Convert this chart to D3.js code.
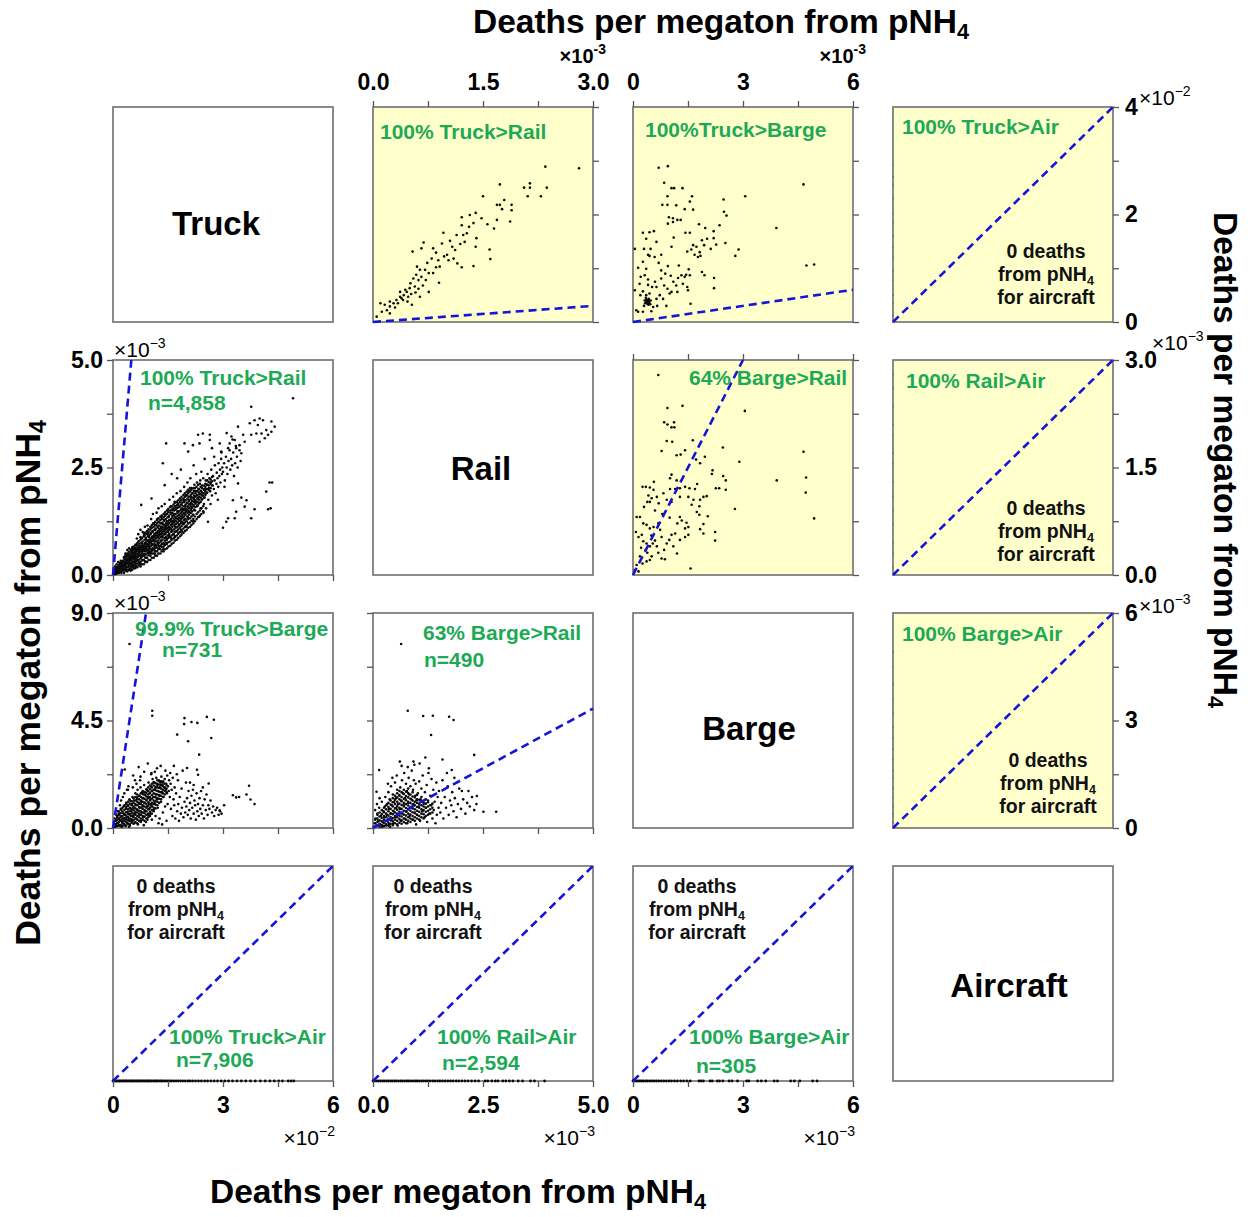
<!DOCTYPE html>
<html>
<head>
<meta charset="utf-8">
<script src="https://cdn.jsdelivr.net/npm/d3@7"></script>
<style>
  body { margin: 0; background: #fff; }
  svg { display: block; font-family: "Liberation Sans", Arial, sans-serif; }
</style>
</head>
<body>
<svg id="chart" width="1254" height="1217"></svg>
<script>
// ---------------------------------------------------------------
// Deaths per megaton from pNH4, pairwise comparison of freight modes
// Values are given in the displayed axis units (see the x10^n labels)
// ---------------------------------------------------------------

const modes = ["Truck", "Rail", "Barge", "Aircraft"];

// Rail (x, 1e-3) vs Truck (y, 1e-2)
const truckRailUpper = [
  [2.35,2.89],[2.81,2.86],[1.73,2.56],[2.06,2.5],[2.14,2.58],[2.14,2.5],[2.37,2.5],[2.11,2.34],[2.29,2.34],[1.5,2.34],
  [1.69,2.18],[1.73,2.18],[1.79,2.27],[1.89,2.18],[1.89,2.08],[1.76,2.1],[1.87,1.87],[1.69,1.9],[1.65,1.74],[1.56,1.82],
  [1.4,2.03],[1.32,1.99],[1.21,1.95],[1.21,1.8],[1.37,1.84],[1.31,1.77],[1.28,1.65],[1.23,1.62],[1.41,1.56],[1.4,1.4],
  [1.25,1.49],[1.19,1.45],[1.59,1.35],[1.6,1.17],[1.37,1.04],[1.21,1.02],[1.15,1.09],[0.96,1.66],[1.05,1.51],[1.08,1.4],
  [0.94,1.46],[1.12,1.34],[1.01,1.25],[1.03,1.15],[1.1,1.18],[0.82,1.37],[0.86,1.29],[0.8,1.18],[0.89,1.15],[0.91,1.03],
  [0.9,0.73],[0.69,1.48],[0.66,1.37],[0.54,1.31],[0.6,1.03],[0.64,0.97],[0.71,0.97],[0.76,0.91],[0.82,0.91],[0.66,0.84],
  [0.72,0.78],[0.62,0.78],[0.55,0.81],[0.57,0.66],[0.5,0.63],[0.46,0.56],[0.42,0.5],[0.37,0.47],[0.32,0.41],[0.28,0.35],
  [0.23,0.29],[0.19,0.22],[0.12,0.19],[0.1,0.35],[0.05,0.1],[0.41,0.41],[0.48,0.47],[0.53,0.32],[0.64,0.47],[0.76,0.56],
  [0.37,0.56],[0.34,0.35],[0.23,0.38],[0.16,0.32],[0.23,0.16],[0.44,0.6],[0.51,0.72],[0.59,0.88],[0.68,0.68],[0.47,0.38],
  [0.3,0.27],[0.58,0.55],[0.74,1.1],[0.97,1.22],[1.14,1.62],[1.48,1.93],[0.86,1.02],[0.52,0.52],[0.39,0.44],[0.62,0.62]
];

// Barge (x, 1e-3) vs Truck (y, 1e-2)
const truckBargeUpper = [
  [0.7,2.87],[0.95,2.9],[0.85,2.59],[1.05,2.49],[1.12,2.49],[1.35,2.49],[0.94,2.34],[1.61,2.34],[0.8,2.18],[0.94,2.18],
  [1.18,2.17],[1.41,2.1],[1.64,2.09],[1.55,2.24],[2.47,2.28],[3.06,2.34],[4.65,2.56],[3.91,1.75],[4.73,1.05],[4.94,1.07],
  [2.48,2.05],[2.55,1.98],[0.98,1.95],[1.09,1.93],[1.21,1.9],[1.3,1.9],[0.95,1.83],[1.09,1.86],[1.8,1.82],[1.97,1.75],
  [2.2,1.69],[2.36,1.8],[1.43,1.66],[1.55,1.66],[1.11,1.57],[0.27,1.66],[0.45,1.67],[0.57,1.69],[0.36,1.55],[0.64,1.49],
  [0.3,1.36],[0.48,1.36],[1.05,1.4],[1.59,1.35],[1.64,1.43],[1.73,1.4],[1.82,1.3],[1.94,1.43],[1.88,1.52],[2.02,1.55],
  [2.2,1.56],[2.27,1.44],[2.12,1.36],[2.52,1.47],[2.88,1.35],[2.79,1.23],[1.48,1.31],[1.68,1.25],[1.77,1.21],[1.84,1.23],
  [0.41,1.25],[0.45,1.23],[0.59,1.21],[0.77,1.25],[0.27,1.12],[0.36,0.99],[0.14,1.01],[0.21,0.84],[0.32,0.87],[0.41,0.79],
  [0.77,0.96],[0.95,1.04],[0.77,0.81],[1.03,0.86],[1.23,0.82],[1.32,0.87],[1.41,0.84],[1.52,0.98],[1.45,0.88],[1.55,0.87],
  [1.88,0.93],[1.95,0.87],[2.21,0.82],[2.21,0.63],[0.18,0.71],[0.41,0.69],[0.52,0.65],[0.64,0.65],[0.85,0.68],[0.94,0.62],
  [1.05,0.56],[1.18,0.68],[1.21,0.56],[1.36,0.71],[1.48,0.65],[1.5,0.59],[0.27,0.57],[0.36,0.5],[0.45,0.53],[0.32,0.4],
  [0.36,0.37],[0.41,0.38],[0.43,0.43],[0.39,0.34],[0.45,0.35],[0.64,0.43],[0.73,0.5],[0.82,0.43],[1.0,0.53],[0.66,0.3],
  [0.91,0.3],[1.57,0.34],[0.09,0.22],[0.14,0.19],[0.27,0.19],[0.5,0.2],[0.05,1.36],[0.05,0.59],[0.38,0.41],[0.42,0.32],
  [0.35,0.45],[0.48,0.4],[0.3,0.3],[0.55,0.28],[0.6,0.75],[0.2,0.5],[1.1,0.75],[0.7,1.1],[1.25,1.05],[0.88,0.9],
  [0.4,0.36],[0.44,0.39],[0.37,0.42],[0.47,0.33],[0.33,0.35]
];

// Barge (x, 1e-3) vs Rail (y, 1e-3)
const bargeRailUpper = [
  [0.69,2.79],[0.94,2.33],[1.35,2.36],[0.85,2.13],[0.94,2.1],[1.05,2.06],[1.13,2.06],[1.12,2.13],[3.05,2.29],[0.92,1.87],
  [1.07,1.86],[1.63,1.88],[2.45,1.78],[4.65,1.72],[0.78,1.73],[1.19,1.67],[1.3,1.68],[1.42,1.74],[1.96,1.65],[1.72,1.61],
  [1.83,1.56],[2.9,1.58],[3.92,1.32],[4.72,1.36],[4.71,1.15],[4.94,0.79],[2.78,0.92],[1.57,0.09],[1.05,1.4],[1.01,1.35],
  [1.19,1.32],[2.15,1.41],[2.17,1.46],[2.46,1.38],[2.53,1.32],[2.26,1.21],[2.35,1.21],[2.53,1.19],[1.75,1.27],[1.69,1.2],
  [1.54,1.21],[1.42,1.23],[1.28,1.21],[1.15,1.2],[1.01,1.2],[0.83,1.14],[0.92,1.05],[1.05,1.02],[1.28,1.09],[1.51,1.09],
  [0.26,1.23],[0.35,1.23],[0.46,1.22],[0.57,1.3],[0.56,1.19],[0.42,1.11],[0.65,1.09],[0.39,1.02],[0.46,1.02],[0.51,1.07],
  [1.65,1.05],[1.83,1.05],[1.92,1.09],[2.01,1.1],[1.81,0.96],[1.6,0.98],[1.74,0.88],[1.81,0.84],[2.04,0.82],[2.24,0.6],
  [2.24,0.48],[1.92,0.71],[1.92,0.58],[1.83,0.64],[1.46,0.73],[1.51,0.67],[1.42,0.65],[1.28,0.81],[1.33,0.76],[1.21,0.72],
  [1.15,0.58],[1.05,0.56],[0.99,0.49],[0.92,0.44],[0.78,0.53],[0.74,0.63],[0.69,0.72],[0.56,0.67],[0.46,0.65],[0.37,0.7],
  [0.28,0.72],[0.19,0.81],[0.1,0.81],[0.08,0.6],[0.15,0.53],[0.24,0.56],[0.28,0.47],[0.37,0.44],[0.46,0.4],[0.54,0.44],
  [0.6,0.48],[0.65,0.4],[0.69,0.31],[0.78,0.23],[0.87,0.22],[1.1,0.4],[1.28,0.49],[1.42,0.53],[1.51,0.56],[0.35,0.35],
  [0.39,0.31],[0.51,0.26],[0.19,0.26],[0.1,0.14],[0.05,0.07],[0.15,0.05],[0.26,0.16],[0.46,0.21],[0.37,0.19],[0.6,0.9],
  [0.3,0.95],[0.8,0.85],[1.0,0.8],[0.7,1.0],[0.5,0.55],[0.22,0.38],[0.85,0.35],[1.2,0.3]
];

// Truck (x, 1e-2) vs Rail (y, 1e-3): scattered points
const truckRailLower = [
  [.02,.03],[.05,.02],[.04,.08],[.08,.05],[.1,.12],[.07,.15],[.12,.06],[.15,.1],[.13,.18],[.18,.14],[.2,.08],[.17,.22],
  [.22,.19],[.25,.13],[.24,.26],[.28,.2],[.27,.1],[.03,.12],[.06,.2],[.1,.25],[.14,.3],[.19,.28],[.21,.33],[.26,.3],
  [.3,.25],[.29,.16],[.11,.04],[.16,.05],[.09,.18],[.23,.05],
  [.31,.12],[.33,.22],[.35,.31],[.32,.38],[.37,.18],[.38,.27],[.4,.35],[.41,.44],[.36,.45],[.43,.2],[.44,.3],[.46,.38],
  [.45,.5],[.48,.26],[.49,.42],[.5,.33],[.52,.47],[.51,.55],[.54,.22],[.55,.38],[.56,.6],[.58,.3],[.59,.45],[.57,.52],
  [.34,.5],[.39,.58],[.42,.12],[.47,.15],[.53,.65],[.6,.55],[.3,.4],[.44,.62],
  [.61,.3],[.62,.42],[.63,.58],[.64,.7],[.66,.36],[.67,.5],[.68,.62],[.7,.78],[.71,.28],[.72,.45],[.73,.55],[.74,.67],
  [.76,.4],[.77,.6],[.78,.85],[.79,.5],[.8,.72],[.82,.35],[.83,.58],[.84,.65],[.85,.9],[.86,.48],[.88,.75],[.89,.62],
  [.9,.55],[.91,.82],[.92,.4],[.93,.7],[.95,.95],[.96,.6],[.97,.78],[.98,.5],[.99,.88],[.65,.85],[.69,.95],[.75,1.05],
  [.81,1.0],[.87,1.12],[.63,.2],[.75,.25],[.88,.32],[.94,1.15],
  [1.0,.65],[1.01,.8],[1.02,.95],[1.03,1.1],[1.05,.55],[1.06,.72],[1.07,.88],[1.08,1.02],[1.1,1.2],[1.11,.6],[1.12,.78],
  [1.13,.92],[1.15,1.05],[1.16,.7],[1.17,.85],[1.18,1.15],[1.2,.98],[1.21,1.3],[1.22,.75],[1.23,.9],[1.25,1.08],[1.26,.62],
  [1.27,1.22],[1.28,.95],[1.3,.8],[1.31,1.12],[1.32,1.35],[1.34,1.0],[1.35,.88],[1.36,1.18],[1.38,.72],[1.39,1.28],
  [1.4,1.05],[1.42,.95],[1.43,1.4],[1.44,1.15],[1.46,.85],[1.47,1.25],[1.48,1.08],[1.49,1.5],[1.04,1.3],[1.09,1.42],
  [1.14,.5],[1.19,1.45],[1.24,1.55],[1.29,.68],[1.33,1.6],[1.37,.6],[1.41,1.65],[1.45,.75],
  [1.5,1.0],[1.51,1.2],[1.52,1.35],[1.53,.9],[1.55,1.1],[1.56,1.28],[1.57,1.45],[1.58,1.6],[1.6,1.05],[1.61,1.18],
  [1.62,1.38],[1.63,1.52],[1.65,.95],[1.66,1.25],[1.67,1.42],[1.68,1.7],[1.7,1.12],[1.71,1.32],[1.72,1.55],[1.73,1.02],
  [1.75,1.22],[1.76,1.48],[1.77,1.65],[1.78,1.3],[1.8,1.15],[1.81,1.4],[1.82,1.58],[1.83,1.78],[1.85,1.25],[1.86,1.05],
  [1.87,1.45],[1.88,1.62],[1.9,1.35],[1.91,1.52],[1.92,1.2],[1.93,1.75],[1.95,1.42],[1.96,1.6],[1.97,1.3],[1.98,1.85],
  [1.54,1.75],[1.59,.85],[1.64,1.82],[1.69,.88],[1.74,1.9],[1.79,.98],[1.84,1.95],[1.89,1.0],[1.94,2.05],[1.99,1.12],
  [2.0,1.5],[2.01,1.68],[2.02,1.85],[2.04,1.35],[2.05,1.58],[2.06,1.75],[2.08,1.95],[2.09,1.45],[2.1,1.65],[2.12,1.82],
  [2.13,2.02],[2.14,1.55],[2.16,1.72],[2.17,1.9],[2.18,1.4],[2.2,1.62],[2.21,1.8],[2.22,2.1],[2.24,1.5],[2.25,1.7],
  [2.26,1.95],[2.28,1.85],[2.29,2.15],[2.3,1.6],[2.32,1.78],[2.33,2.0],[2.35,1.68],[2.36,1.88],[2.38,2.2],[2.39,1.55],
  [2.4,1.95],[2.42,1.75],[2.43,2.08],[2.45,1.85],[2.46,2.25],[2.48,1.65],[2.49,2.0],[2.03,2.15],[2.11,2.25],[2.19,1.25],
  [2.27,2.35],[2.34,1.35],[2.41,2.4],[2.47,1.45],
  [2.5,1.8],[2.52,2.0],[2.53,2.2],[2.55,1.9],[2.57,2.1],[2.58,2.35],[2.6,1.75],[2.62,2.02],[2.63,2.25],[2.65,1.95],
  [2.67,2.15],[2.68,2.45],[2.7,1.85],[2.72,2.08],[2.73,2.3],[2.75,2.0],[2.77,2.2],[2.78,2.55],[2.8,1.9],[2.82,2.12],
  [2.83,2.38],[2.85,2.25],[2.87,2.05],[2.88,2.6],[2.9,2.3],[2.92,2.45],[2.93,2.15],[2.95,2.7],[2.97,2.35],[2.98,2.5],
  [2.54,1.55],[2.66,1.65],[2.76,2.75],[2.86,1.75],[2.96,2.85],
  [3.0,2.4],[3.03,2.6],[3.05,2.2],[3.08,2.75],[3.1,2.5],[3.12,2.35],[3.15,2.65],[3.18,2.9],[3.2,2.45],[3.22,2.7],
  [3.25,2.55],[3.28,2.85],[3.3,2.3],[3.33,2.6],[3.35,3.0],[3.38,2.75],[3.4,2.5],[3.45,2.9],[3.48,2.65],[3.04,2.05],
  [3.14,2.95],[3.26,3.15],
  [4.91,4.11],[3.77,3.91],[3.86,3.6],[4.0,3.64],[4.09,3.6],[4.32,3.57],[4.41,3.45],[4.18,3.37],[4.05,3.29],[3.91,3.29],
  [3.77,3.26],[4.23,3.26],[4.0,3.1],[4.14,3.18],[3.73,3.53],[4.32,3.33],[3.95,3.49],[3.41,3.45],[3.55,3.26],[3.59,3.1],
  [3.45,3.02],[3.32,3.14],[3.23,3.22],[3.36,2.95],[3.5,2.83],[3.18,3.06],[2.32,3.26],[2.45,3.29],[2.64,3.26],[2.64,3.14],
  [2.18,3.02],[2.36,3.06],[1.95,3.06],[2.05,2.87],[1.45,3.06],[1.36,2.6],[2.91,3.06],[2.95,2.87],[4.27,2.15],[4.34,2.15],
  [4.18,1.94],[4.3,1.55],[4.23,1.53],[3.86,1.53],[3.77,1.32],[3.64,1.74],[3.5,1.8],[3.41,2.13],[3.59,1.59],[3.36,1.47],
  [3.32,1.32],[3.14,1.32],[3.0,1.1],[2.59,1.24],[3.09,1.24],[3.27,1.74],[0.77,1.63],[1.05,1.78],[1.41,2.09],[1.75,2.25],
  [1.6,2.35],[1.85,2.45],[2.2,2.55],[2.5,2.7],[2.7,2.95],[3.1,3.3]
];
// Truck vs Rail: dense core, one Truck value with the Rail values stacked above it
const truckRailLowerCore = [
  [.05,[.04,.1]],[.09,[.03,.09,.14]],[.14,[.08,.15,.2]],[.18,[.06,.12,.19,.25]],[.23,[.1,.16,.22,.28]],
  [.27,[.14,.21,.26,.33]],[.32,[.17,.25,.3,.36]],[.36,[.13,.2,.28,.34,.4]],[.41,[.18,.25,.31,.38,.47]],
  [.45,[.22,.28,.34,.42,.46]],[.5,[.2,.27,.36,.4,.45,.52]],[.54,[.25,.31,.41,.44,.5,.58]],[.59,[.28,.35,.4,.48,.53,.62]],
  [.63,[.32,.38,.45,.5,.55,.64]],[.68,[.35,.42,.47,.55,.6,.68]],[.72,[.36,.48,.52,.6,.63,.72]],[.77,[.4,.45,.55,.65,.68,.75]],
  [.81,[.44,.5,.56,.62,.68,.78]],[.86,[.45,.55,.6,.68,.72,.82]],[.9,[.48,.6,.65,.72,.76,.86]],[.95,[.52,.58,.66,.72,.8,.9]],
  [.99,[.55,.62,.7,.75,.82,.93]],[1.04,[.6,.68,.75,.78,.85,.98]],[1.08,[.62,.7,.8,.84,.9,1.0]],[1.13,[.66,.72,.82,.88,.95,1.05]],
  [1.17,[.68,.78,.86,.92,.98,1.08]],[1.22,[.72,.8,.88,.95,1.02,1.12]],[1.26,[.75,.85,.92,1.0,1.05,1.15]],
  [1.31,[.78,.88,.95,1.02,1.08,1.2]],[1.35,[.82,.92,.98,1.06,1.12,1.22]],[1.4,[.86,.95,1.02,1.1,1.16,1.26]],
  [1.44,[.88,.98,1.06,1.12,1.2,1.3]],[1.49,[.92,1.02,1.1,1.16,1.24,1.34]],[1.53,[.95,1.05,1.12,1.2,1.27,1.38]],
  [1.58,[1.0,1.08,1.16,1.24,1.3,1.42]],[1.62,[1.02,1.12,1.2,1.26,1.34,1.45]],[1.67,[1.06,1.15,1.22,1.3,1.38,1.5]],
  [1.71,[1.1,1.18,1.26,1.34,1.42,1.52]],[1.76,[1.12,1.22,1.3,1.37,1.45,1.56]],[1.8,[1.18,1.26,1.33,1.4,1.48,1.6]],
  [1.85,[1.2,1.3,1.36,1.44,1.52,1.64]],[1.89,[1.24,1.32,1.4,1.48,1.55,1.68]],[1.94,[1.28,1.36,1.44,1.52,1.6,1.7]],
  [1.98,[1.3,1.4,1.47,1.55,1.64,1.74]],[2.03,[1.36,1.45,1.52,1.6,1.68,1.78]],[2.07,[1.4,1.48,1.56,1.64,1.72,1.82]],
  [2.12,[1.44,1.52,1.6,1.68,1.76,1.86]],[2.16,[1.48,1.58,1.65,1.72,1.8,1.9]],[2.21,[1.52,1.6,1.7,1.76,1.85,1.95]],
  [2.25,[1.58,1.66,1.74,1.82,1.9]],[2.3,[1.62,1.7,1.78,1.86,1.95]],[2.34,[1.66,1.75,1.82,1.92,2.0]],
  [2.39,[1.7,1.8,1.88,1.96,2.05]],[2.43,[1.76,1.85,1.92,2.02]],[2.48,[1.8,1.9,1.98,2.08]],[2.52,[1.86,1.95,2.05,2.12]],
  [2.57,[1.92,2.0,2.1,2.2]],[2.61,[1.98,2.08,2.16]],[2.66,[2.02,2.12,2.22]],[2.7,[2.08,2.18,2.28]]
];
// Truck vs Rail: the broader fringe around that core
const truckRailLowerFringe = [
  [.3,[.05,.42]],[.39,[.08,.5]],[.48,[.1,.14,.58]],[.57,[.15,.2,.66]],[.66,[.18,.26,.74]],[.75,[.2,.3,.82,.88]],
  [.84,[.25,.35,.9,.96]],[.93,[.3,.4,.96,1.02]],[1.02,[.35,.45,.52,1.05,1.12]],[1.11,[.4,.5,.58,1.12,1.2]],
  [1.2,[.45,.55,.64,1.2,1.28]],[1.29,[.5,.6,.68,1.28,1.36]],[1.38,[.55,.66,.75,1.34,1.42]],[1.47,[.62,.72,.82,1.42,1.5]],
  [1.56,[.68,.78,.88,1.5,1.58]],[1.65,[.75,.85,.95,1.56,1.64]],[1.74,[.82,.92,1.02,1.62,1.7]],[1.83,[.9,1.0,1.1,1.7,1.78]],
  [1.92,[.98,1.08,1.18,1.78,1.86]],[2.01,[1.05,1.15,1.25,1.86,1.94]],[2.1,[1.12,1.22,1.32,1.94,2.02]],
  [2.19,[1.2,1.3,1.4,2.02]],[2.28,[1.3,1.42,2.05]],[2.37,[1.38,1.5,2.12]],[2.46,[1.48,1.6]],
  [.34,[.1,.46]],[.43,[.12,.54]],[.52,[.12,.18,.62]],[.61,[.16,.24,.7]],[.7,[.22,.3,.78]],[.79,[.25,.34,.86]],
  [.88,[.3,.4,.94,.99]],[.97,[.35,.46,1.0,1.06]],[1.06,[.4,.5,.58,1.1,1.16]],[1.15,[.45,.55,.62,1.16,1.24]],
  [1.24,[.5,.6,.68,1.24,1.32]],[1.33,[.55,.65,.72,1.3,1.38]],[1.42,[.6,.7,.8,1.38,1.46]],[1.51,[.66,.76,.86,1.46,1.54]],
  [1.6,[.72,.82,.92,1.52,1.6]],[1.69,[.8,.9,1.0,1.6,1.68]],[1.78,[.86,.96,1.06,1.66,1.74]],[1.87,[.94,1.04,1.14,1.74,1.82]],
  [1.96,[1.02,1.12,1.22,1.82,1.9]],[2.05,[1.1,1.2,1.3,1.9,1.98]],[2.14,[1.16,1.26,1.36,1.98]],[2.23,[1.25,1.36,2.02]],
  [2.32,[1.35,1.46,2.1]],[2.41,[1.42,1.55]]
];

// Truck (x, 1e-2) vs Barge (y, 1e-3): scattered points
const truckBargeLower = [
  [.03,.05],[.06,.15],[.08,.3],[.1,.1],[.12,.45],[.14,.22],[.16,.6],[.18,.35],[.2,.08],[.21,.5],[.23,.75],[.25,.25],
  [.26,.4],[.28,.62],[.29,.9],[.3,.15],[.32,.55],[.33,.32],[.35,.8],[.36,1.05],[.37,.45],[.39,.2],[.4,.68],[.41,.95],
  [.43,.38],[.44,.58],[.45,1.2],[.46,.1],[.47,.82],[.48,.3],[.49,.5],[.05,.4],[.09,.55],[.13,.7],[.19,.95],[.22,1.15],
  [.27,1.3],[.31,1.45],[.38,1.6],[.42,1.75],[.17,.12],[.24,.05],[.34,.08],[.44,.05],
  [.32,2.45],[.6,2.0],[.41,1.6],[.7,2.55],[.85,2.35],[.55,2.2],[.95,2.7],[1.2,2.5],[1.3,2.6],[1.05,2.3],[.75,2.15],
  [.5,.7],[.51,1.0],[.52,.3],[.53,1.3],[.55,.5],[.56,.85],[.57,1.15],[.58,.2],[.6,.6],[.61,1.45],[.62,.95],[.63,.4],
  [.65,1.2],[.66,.75],[.67,1.6],[.68,.15],[.7,1.0],[.71,.55],[.72,1.35],[.73,.85],[.75,1.7],[.76,.3],[.77,1.1],[.78,.65],
  [.8,1.5],[.81,.9],[.82,1.25],[.83,.45],[.85,1.8],[.86,1.05],[.87,.7],[.88,1.4],[.9,.25],[.91,1.15],[.92,1.6],[.93,.9],
  [.95,1.3],[.96,.55],[.97,1.9],[.98,1.0],[.99,.8],[.54,1.7],[.64,1.85],[.74,2.0],[.84,.12],[.94,.35],
  [1.0,1.45],[1.01,.6],[1.02,1.2],[1.03,1.75],[1.05,.95],[1.06,.35],[1.07,1.55],[1.08,2.05],[1.1,1.3],[1.11,.75],
  [1.12,1.9],[1.13,1.05],[1.15,1.65],[1.16,.5],[1.17,1.4],[1.18,2.1],[1.2,1.2],[1.21,1.8],[1.22,.85],[1.23,1.55],
  [1.25,2.0],[1.26,1.35],[1.27,.4],[1.28,1.7],[1.3,1.9],[1.31,1.1],[1.32,2.15],[1.33,1.5],[1.35,1.8],[1.36,.65],
  [1.37,1.95],[1.38,1.3],[1.4,1.7],[1.41,2.05],[1.42,.9],[1.44,1.6],[1.45,1.85],[1.46,.3],[1.47,1.45],[1.48,2.2],
  [1.49,1.0],[1.04,2.25],[1.14,2.35],[1.24,.2],[1.34,.15],[1.43,2.4],
  [1.5,1.75],[1.52,1.55],[1.53,2.0],[1.55,1.3],[1.57,1.85],[1.58,.8],[1.6,1.6],[1.62,.5],[1.63,2.1],[1.65,1.2],
  [1.67,.95],[1.68,1.7],[1.7,.4],[1.72,1.45],[1.75,.7],[1.77,2.0],[1.78,1.0],[1.8,.3],[1.82,1.3],[1.85,.6],
  [1.87,1.65],[1.88,.85],[1.9,2.4],[1.92,.45],[1.95,1.1],[1.97,.65],[1.99,1.9],[1.56,2.3],[1.66,2.6],[1.74,2.25],
  [2.0,.9],[2.02,1.25],[2.04,.55],[2.06,1.55],[2.08,.75],[2.1,1.05],[2.12,.4],[2.14,1.35],[2.16,.85],[2.18,1.6],
  [2.2,.6],[2.22,1.15],[2.24,.95],[2.26,.35],[2.28,1.45],[2.3,.7],[2.32,1.0],[2.34,.5],[2.36,1.25],[2.38,.8],
  [2.4,1.55],[2.42,.6],[2.45,.95],[2.48,.4],[2.5,1.2],[2.53,.75],[2.55,1.4],[2.58,.55],[2.6,.95],[2.63,.8],
  [2.66,1.15],[2.7,.65],[2.73,.9],[2.76,.5],[2.8,.75],[2.84,.85],[2.88,.55],[2.92,.7],[2.96,.6],[2.2,1.8],
  [2.1,1.9],[2.45,1.7],
  [.45,7.7],[1.07,4.91],[1.07,4.7],[1.95,4.6],[1.94,4.35],[2.14,4.44],[2.3,4.4],[2.56,4.65],[2.75,4.53],[2.68,3.77],
  [1.75,3.91],[2.05,3.63],[2.35,3.07],[2.29,2.44],[2.32,2.23],[2.02,2.51],[2.61,1.86],[3.27,1.37],[3.36,1.28],[3.44,1.3],
  [3.64,1.4],[3.71,1.77],[3.75,1.19],[3.86,1.0],[3.03,.95],[2.91,.74]
];
// Truck vs Barge: dense core
const truckBargeLowerCore = [
  [.06,[.05,.15,.3]],[.11,[.08,.2,.35,.5]],[.16,[.1,.25,.4,.55,.7]],[.21,[.12,.3,.45,.62,.8]],
  [.26,[.08,.2,.35,.5,.68,.85]],[.31,[.15,.28,.42,.58,.75,.95]],[.36,[.1,.25,.38,.52,.66,.88,1.0]],
  [.41,[.18,.32,.46,.6,.78,.92,1.1]],[.46,[.15,.28,.4,.55,.7,.85,1.02,1.15]],[.51,[.22,.36,.5,.62,.8,.95,1.12]],
  [.56,[.18,.32,.45,.6,.74,.9,1.05,1.25]],[.61,[.25,.4,.55,.68,.82,1.0,1.15,1.3]],[.66,[.2,.35,.5,.65,.78,.95,1.1,1.28,1.4]],
  [.71,[.3,.45,.6,.72,.88,1.05,1.2,1.35]],[.76,[.25,.4,.55,.7,.85,1.0,1.15,1.3,1.45]],
  [.81,[.35,.5,.65,.8,.95,1.1,1.25,1.42,1.55]],[.86,[.3,.48,.62,.75,.9,1.05,1.22,1.38,1.5]],
  [.91,[.4,.55,.7,.85,1.0,1.18,1.32,1.48,1.62]],[.96,[.45,.6,.78,.92,1.08,1.25,1.4,1.55,1.7]],
  [1.01,[.5,.68,.85,1.0,1.15,1.3,1.48,1.62,1.78]],[1.06,[.6,.75,.9,1.05,1.22,1.38,1.55,1.7,1.85]],
  [1.11,[.7,.85,1.0,1.15,1.3,1.45,1.6,1.78,1.92]],[1.16,[.82,.98,1.12,1.28,1.42,1.58,1.72,1.88]],
  [1.21,[.95,1.1,1.25,1.4,1.55,1.7,1.85,2.0]],[1.26,[1.05,1.22,1.38,1.52,1.68,1.82,1.96]],
  [1.31,[1.2,1.35,1.5,1.65,1.8,1.95]],[1.36,[1.3,1.45,1.6,1.75,1.9]],[1.41,[1.4,1.55,1.7,1.85]],[1.46,[1.5,1.65,1.8]]
];

// Rail (x, 1e-3) vs Barge (y, 1e-3): scattered points
const bargeRailLower = [
  [.02,.05],[.04,.2],[.06,.4],[.08,.1],[.1,.6],[.12,.3],[.14,.85],[.16,.15],[.18,.5],[.2,1.1],[.22,.25],[.24,.7],
  [.26,.45],[.28,1.3],[.3,.1],[.05,.75],[.09,1.0],[.15,1.25],[.21,.05],[.27,.9],
  [.31,.55],[.32,1.0],[.33,.3],[.35,1.5],[.36,.8],[.37,.15],[.38,1.2],[.4,.6],[.41,1.75],[.42,.35],[.43,.95],[.45,1.4],
  [.46,.2],[.47,.7],[.48,1.1],[.5,1.9],[.51,.45],[.52,1.25],[.53,.85],[.55,1.6],[.56,.1],[.57,1.0],[.58,.55],[.6,1.35],
  [.34,1.85],[.44,2.1],[.54,2.2],[.39,.05],
  [.61,.8],[.62,1.7],[.63,.3],[.64,1.15],[.66,2.0],[.67,.6],[.68,1.45],[.7,.95],[.71,2.3],[.72,.4],[.73,1.25],[.75,1.85],
  [.76,.7],[.77,1.55],[.78,.2],[.8,1.05],[.81,2.1],[.82,1.4],[.83,.5],[.85,1.75],[.86,.85],[.87,1.2],[.88,2.4],[.9,.35],
  [.91,1.6],[.92,1.0],[.93,2.0],[.95,.65],[.96,1.35],[.97,1.85],[.98,.15],[.99,1.15],[.65,2.6],[.79,2.55],[.94,2.65],
  [1.0,.55],[1.02,1.45],[1.04,.9],[1.05,1.95],[1.07,.3],[1.08,1.2],[1.1,1.65],[1.12,.7],[1.13,2.2],[1.15,1.0],[1.17,.45],
  [1.18,1.5],[1.2,.85],[1.22,1.8],[1.23,.25],[1.25,1.15],[1.27,2.5],[1.28,.6],[1.3,1.35],[1.32,.95],[1.33,2.05],[1.35,.4],
  [1.37,1.6],[1.38,.75],[1.4,1.1],[1.42,.2],[1.44,1.9],[1.45,.55],[1.47,1.3],[1.49,.85],[1.06,2.7],[1.19,2.95],[1.26,2.3],
  [1.5,1.55],[1.53,.65],[1.55,1.05],[1.58,2.0],[1.6,.4],[1.63,1.3],[1.66,.85],[1.7,1.75],[1.72,.55],[1.75,1.15],
  [1.78,.95],[1.8,1.5],[1.83,.7],[1.86,1.25],[1.9,.45],[1.93,1.0],[1.96,1.65],[2.0,.8],[2.05,1.2],[2.1,.6],
  [2.14,1.05],[2.2,.9],[2.25,1.3],[2.3,.75],[2.35,1.0],[1.68,2.3],[1.85,2.1],
  [.64,7.7],[.79,4.91],[1.14,4.69],[1.36,4.7],[1.73,4.66],[1.83,4.52],[1.32,3.89],[2.3,3.06],[1.58,2.87],[.61,2.78],
  [.92,2.78],[.14,2.43],[1.79,2.43],[2.51,.68],[2.8,.68],[2.36,1.34],[2.17,1.55],[2.02,1.55],[.08,1.52]
];
// Rail vs Barge: dense core
const bargeRailLowerCore = [
  [.05,[.05,.2,.35]],[.1,[.1,.25,.4,.55]],[.15,[.05,.18,.32,.48,.65]],[.2,[.12,.28,.42,.58,.75]],
  [.25,[.08,.2,.35,.5,.66,.85]],[.3,[.15,.3,.45,.6,.78,.95]],[.35,[.1,.22,.38,.52,.7,.88,1.05]],
  [.4,[.18,.32,.46,.62,.8,.98,1.15]],[.45,[.12,.28,.42,.58,.72,.9,1.08,1.25]],[.5,[.2,.35,.5,.65,.82,1.0,1.18,1.35]],
  [.55,[.15,.3,.45,.6,.76,.92,1.1,1.28,1.45]],[.6,[.22,.38,.52,.68,.85,1.02,1.2,1.38,1.55]],
  [.65,[.18,.32,.48,.62,.8,.96,1.12,1.3,1.5]],[.7,[.25,.4,.56,.72,.9,1.05,1.22,1.42,1.6]],
  [.75,[.2,.35,.52,.68,.84,1.0,1.16,1.34,1.52]],[.8,[.3,.45,.6,.78,.94,1.1,1.28,1.46,1.65]],
  [.85,[.25,.4,.56,.72,.88,1.05,1.22,1.4]],[.9,[.35,.5,.66,.82,.98,1.15,1.32,1.5]],[.95,[.3,.45,.62,.78,.95,1.1,1.28]],
  [1.0,[.4,.55,.72,.88,1.05,1.2,1.38]],[1.05,[.35,.5,.68,.85,1.0,1.18]],[1.1,[.45,.6,.78,.95,1.12,1.3]],
  [1.15,[.4,.58,.75,.9,1.08]],[1.2,[.5,.68,.85,1.02,1.2]],[1.25,[.55,.72,.9,1.08]],[1.3,[.6,.78,.95]],[1.35,[.65,.85,1.02]]
];

// Aircraft shows zero deaths: Truck / Rail / Barge values paired with Air = 0
const truckAirValues = [0,.03,.07,.1,.14,.18,.21,.25,.29,.33,.36,.4,.44,.48,.52,.55,.59,.63,.67,.7,.74,.78,.82,.86,.9,.94,.97,1.01,
  1.05,1.1,1.14,1.18,1.22,1.27,1.31,1.35,1.4,1.45,1.5,1.55,1.6,1.66,1.72,1.78,1.84,1.9,1.97,2.04,2.1,2.17,2.25,2.33,2.41,
  2.5,2.58,2.67,2.76,2.85,2.95,3.05,3.15,3.26,3.38,3.5,3.62,3.75,3.88,4.02,4.15,4.28,4.4,4.52,4.62,4.78,4.86,4.93];
const railAirValues = [0,.04,.09,.13,.17,.22,.26,.31,.35,.4,.44,.49,.53,.58,.63,.67,.72,.77,.81,.86,.91,.96,1.0,1.05,1.1,1.15,
  1.2,1.25,1.3,1.36,1.41,1.47,1.52,1.58,1.64,1.7,1.76,1.82,1.89,1.95,2.02,2.09,2.16,2.24,2.32,2.4,2.55,2.61,2.7,2.78,2.84,
  2.95,3.02,3.1,3.18,3.3,3.4,3.58,3.67,3.9];
const bargeAirValues = [0,.04,.09,.14,.19,.24,.29,.35,.4,.46,.52,.58,.64,.7,.77,.84,.91,.98,1.05,1.13,1.21,1.3,1.38,1.47,1.56,
  1.8,1.86,1.92,2.1,2.16,2.3,2.36,2.45,2.62,2.7,2.85,3.1,3.16,3.4,3.5,3.62,3.85,3.94,4.3,4.4,4.55,4.9,5.02];
// same sets seen on the upper-right axes (Truck 1e-2, Rail 1e-3, Barge 1e-3)
const truckAirUpper = [.12,.35,.5,.78,.95,1.2,1.38,1.6,1.85,2.02,2.3,2.55,2.7,2.92];
const railAirUpper = [.1,.3,.45,.7,.9,1.1,1.3,1.55,1.7,1.95,2.1,2.35,2.6,2.8];
const bargeAirUpper = [.15,.4,.6,.85,1.1,1.4,1.6,1.9,2.2,2.5,2.8,3.2,3.6,4.0,4.5,4.9];

// Tick labels (value at 0, middle, max of each axis)
const topTicksRail = ["0.0", "1.5", "3.0"];
const topTicksBarge = ["0", "3", "6"];
const rightTicksTruck = ["0", "2", "4"];
const rightTicksRail = ["0.0", "1.5", "3.0"];
const rightTicksBarge = ["0", "3", "6"];
const leftTicksRail = ["0.0", "2.5", "5.0"];
const leftTicksBarge = ["0.0", "4.5", "9.0"];
const bottomTicksTruck = ["0", "3", "6"];
const bottomTicksRail = ["0.0", "2.5", "5.0"];
const bottomTicksBarge = ["0", "3", "6"];

// ---------------------------------------------------------------
const GREEN = "#1ea956", BLUE = "#1515d8", YELLOW = "#ffffcc", FRAME = "#6e6e6e";
const colX = [113, 373, 633, 893], rowY = [107, 360, 613, 866];
const PW = 220, PH = 215;
const svg = d3.select("#chart");

const unstack = core => core.flatMap(([x, ys]) => ys.map(y => [x, y]));

// axis max given as [mantissa, exponent]
const panels = [
  {r:0, c:1, xd:[3,-3], yd:[4,-2], fill:true, pts:truckRailUpper, axes:{top:topTicksRail, right:null},
   notes:[["100% Truck>Rail", 7, 32]]},
  {r:0, c:2, xd:[6,-3], yd:[4,-2], fill:true, pts:truckBargeUpper, axes:{top:topTicksBarge, right:null},
   notes:[["100%Truck>Barge", 12, 30]]},
  {r:0, c:3, xd:[4,-2], yd:[4,-2], fill:true, airCol:truckAirUpper, axes:{right:rightTicksTruck},
   notes:[["100% Truck>Air", 9, 27]], zero:[153, 151]},
  {r:1, c:0, xd:[6,-2], yd:[5,-3],
   pts:truckRailLower.concat(unstack(truckRailLowerCore), unstack(truckRailLowerFringe)),
   axes:{left:leftTicksRail, bottom:null},
   notes:[["100% Truck>Rail", 27, 25], ["n=4,858", 35, 50]]},
  {r:1, c:2, xd:[6,-3], yd:[3,-3], fill:true, pts:bargeRailUpper, axes:{top:null, right:null},
   notes:[["64% Barge>Rail", 56, 25]]},
  {r:1, c:3, xd:[3,-3], yd:[3,-3], fill:true, airCol:railAirUpper, axes:{right:rightTicksRail},
   notes:[["100% Rail>Air", 13, 28]], zero:[153, 155]},
  {r:2, c:0, xd:[6,-2], yd:[9,-3], pts:truckBargeLower.concat(unstack(truckBargeLowerCore)),
   axes:{left:leftTicksBarge, bottom:null},
   notes:[["99.9% Truck>Barge", 22, 23], ["n=731", 49, 44]]},
  {r:2, c:1, xd:[5,-3], yd:[9,-3], pts:bargeRailLower.concat(unstack(bargeRailLowerCore)),
   axes:{left:null, bottom:null},
   notes:[["63% Barge>Rail", 50, 27], ["n=490", 51, 54]]},
  {r:2, c:3, xd:[6,-3], yd:[6,-3], fill:true, airCol:bargeAirUpper, axes:{right:rightTicksBarge},
   notes:[["100% Barge>Air", 9, 28]], zero:[155, 154]},
  {r:3, c:0, xd:[6,-2], yd:[6,-2], airRow:truckAirValues, axes:{bottom:bottomTicksTruck},
   notes:[["100% Truck>Air", 56, 178], ["n=7,906", 63, 201]], zero:[63, 27]},
  {r:3, c:1, xd:[5,-3], yd:[5,-3], airRow:railAirValues, axes:{bottom:bottomTicksRail},
   notes:[["100% Rail>Air", 64, 178], ["n=2,594", 69, 204]], zero:[60, 27]},
  {r:3, c:2, xd:[6,-3], yd:[6,-3], airRow:bargeAirValues, axes:{bottom:bottomTicksBarge},
   notes:[["100% Barge>Air", 56, 178], ["n=305", 63, 207]], zero:[64, 27]}
];

const axisMakers = {top:d3.axisTop, bottom:d3.axisBottom, left:d3.axisLeft, right:d3.axisRight};
const axisPad = {top:11, bottom:10, left:4, right:6};

function drawAxis(side, scale, max, labels, tx, ty) {
  const vals = [0, 0.25, 0.5, 0.75, 1].map(f => f * max);
  const ax = axisMakers[side](scale)
    .tickValues(vals)
    .tickSizeInner(6).tickSizeOuter(0)
    .tickPadding(axisPad[side])
    .tickFormat((d, i) => (labels && i % 2 === 0) ? labels[i / 2] : "");
  const g = svg.append("g").attr("transform", `translate(${tx},${ty})`).call(ax);
  g.select(".domain").remove();
  g.attr("font-family", "Liberation Sans, Arial, sans-serif").attr("font-size", 23).attr("font-weight", "bold");
  g.selectAll(".tick line").attr("stroke", "#555").attr("stroke-width", 1.3);
  g.selectAll(".tick text").attr("fill", "#000");
}

function zeroNote(g, cx, y) {
  const lines = g.append("text").attr("text-anchor", "middle").attr("font-size", 19.5)
    .attr("font-weight", "bold").attr("fill", "#111");
  lines.append("tspan").attr("x", cx).attr("y", y).text("0 deaths");
  lines.append("tspan").attr("x", cx).attr("y", y + 23).text("from pNH");
  lines.append("tspan").attr("dy", 4).attr("font-size", 12.5).text("4");
  lines.append("tspan").attr("x", cx).attr("y", y + 46).text("for aircraft");
}

panels.forEach(p => {
  const x0 = colX[p.c], y0 = rowY[p.r];
  const kx = Math.pow(10, p.xd[1]), ky = Math.pow(10, p.yd[1]);
  const xMax = p.xd[0] * kx, yMax = p.yd[0] * ky;
  const sx = d3.scaleLinear().domain([0, xMax]).range([x0, x0 + PW]);
  const sy = d3.scaleLinear().domain([0, yMax]).range([y0 + PH, y0]);
  const g = svg.append("g");

  g.append("rect").attr("x", x0).attr("y", y0).attr("width", PW).attr("height", PH)
    .attr("fill", p.fill ? YELLOW : "#fff").attr("stroke", FRAME).attr("stroke-width", 1.6);

  if (p.pts) {
    g.append("g").selectAll("circle").data(p.pts).join("circle")
      .attr("cx", d => sx(d[0] * kx)).attr("cy", d => sy(d[1] * ky))
      .attr("r", 1.3).attr("fill", "#0a0a0a");
  }
  if (p.airCol) {
    g.append("g").selectAll("circle").data(p.airCol).join("circle")
      .attr("cx", sx(0)).attr("cy", d => sy(d * ky))
      .attr("r", 0.8).attr("fill", "#555").attr("opacity", 0.6);
  }
  if (p.airRow) {
    g.append("g").selectAll("circle").data(p.airRow).join("circle")
      .attr("cx", d => sx(d * kx)).attr("cy", sy(0))
      .attr("r", 1.4).attr("fill", "#0a0a0a");
  }

  // 1:1 line
  const end = Math.min(xMax, yMax);
  g.append("line").attr("x1", sx(0)).attr("y1", sy(0)).attr("x2", sx(end)).attr("y2", sy(end))
    .attr("stroke", BLUE).attr("stroke-width", 2.6).attr("stroke-dasharray", "8,5");

  Object.entries(p.axes).forEach(([side, labels]) => {
    if (side === "top") drawAxis(side, sx, xMax, labels, 0, y0);
    if (side === "bottom") drawAxis(side, sx, xMax, labels, 0, y0 + PH);
    if (side === "left") drawAxis(side, sy, yMax, labels, x0, 0);
    if (side === "right") drawAxis(side, sy, yMax, labels, x0 + PW, 0);
  });

  p.notes.forEach(([t, dx, dy]) => {
    g.append("text").attr("x", x0 + dx).attr("y", y0 + dy).attr("font-size", 21)
      .attr("font-weight", "bold").attr("fill", GREEN).text(t);
  });
  if (p.zero) zeroNote(g, x0 + p.zero[0], y0 + p.zero[1]);
});

// diagonal mode names
const nameAt = [[103, 128], [108, 120], [116, 127], [116, 131]];
modes.forEach((m, i) => {
  svg.append("rect").attr("x", colX[i]).attr("y", rowY[i]).attr("width", PW).attr("height", PH)
    .attr("fill", "#fff").attr("stroke", FRAME).attr("stroke-width", 1.6);
  svg.append("text").attr("x", colX[i] + nameAt[i][0]).attr("y", rowY[i] + nameAt[i][1])
    .attr("text-anchor", "middle").attr("font-size", 33).attr("font-weight", "bold").attr("fill", "#000").text(m);
});

// x10^n multipliers
function multiplier(x, y, exp, anchor, bold) {
  const size = bold ? 20 : 21;
  const t = svg.append("text").attr("x", x).attr("y", y).attr("text-anchor", anchor)
    .attr("font-size", size).attr("font-weight", bold ? "bold" : "normal").attr("fill", "#000");
  t.append("tspan").text("×10");
  t.append("tspan").attr("dy", -9).attr("font-size", 14).text(bold ? "-" + Math.abs(exp) : "−" + Math.abs(exp));
}
multiplier(606, 63, -3, "end", true);
multiplier(866, 63, -3, "end", true);
multiplier(114, 357, -3, "start", false);
multiplier(114, 610, -3, "start", false);
multiplier(1139, 105, -2, "start", false);
multiplier(1152, 350, -3, "start", false);
multiplier(1139, 613, -3, "start", false);
multiplier(335, 1145, -2, "end", false);
multiplier(595, 1145, -3, "end", false);
multiplier(855, 1145, -3, "end", false);

// axis titles
function title(x, y, rot, size) {
  const t = svg.append("text").attr("text-anchor", "middle").attr("font-size", size).attr("font-weight", "bold")
    .attr("fill", "#000").attr("transform", `translate(${x},${y}) rotate(${rot})`);
  t.append("tspan").text("Deaths per megaton from pNH");
  t.append("tspan").attr("dy", 6).attr("font-size", size * 0.65).text("4");
}
title(721, 33, 0, 33.5);
title(458, 1203, 0, 33.5);
title(40, 683, -90, 35.5);
title(1214, 460, 90, 33.5);
</script>
</body>
</html>
